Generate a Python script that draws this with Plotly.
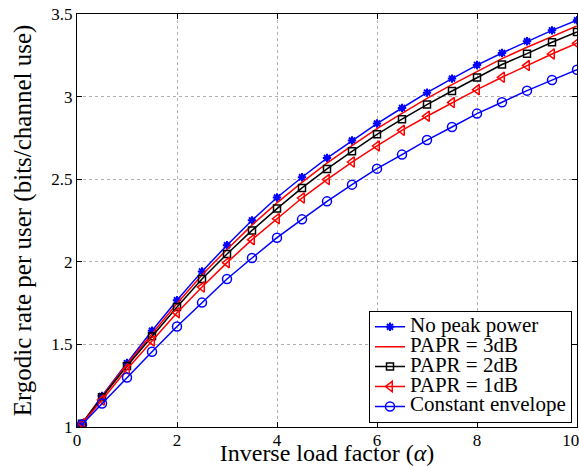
import plotly.graph_objects as go

alpha = [0.1, 0.5, 1, 1.5, 2, 2.5, 3, 3.5, 4, 4.5, 5, 5.5, 6, 6.5, 7, 7.5, 8, 8.5, 9, 9.5, 10]

no_peak = [1.02, 1.188, 1.387, 1.583, 1.767, 1.942, 2.10, 2.251, 2.389, 2.512, 2.628,
           2.734, 2.837, 2.931, 3.024, 3.109, 3.191, 3.264, 3.335, 3.401, 3.462]
papr3 = [1.02, 1.185, 1.38, 1.567, 1.748, 1.92, 2.075, 2.222, 2.357, 2.481, 2.597,
         2.703, 2.806, 2.898, 2.989, 3.073, 3.154, 3.230, 3.299, 3.366, 3.428]
papr2 = [1.02, 1.18, 1.369, 1.549, 1.727, 1.896, 2.047, 2.19, 2.322, 2.447, 2.562,
         2.669, 2.772, 2.863, 2.952, 3.034, 3.115, 3.194, 3.26, 3.329, 3.391]
papr1 = [1.02, 1.163, 1.349, 1.521, 1.692, 1.847, 1.995, 2.134, 2.261, 2.386, 2.498,
         2.604, 2.701, 2.796, 2.881, 2.964, 3.042, 3.117, 3.188, 3.258, 3.323]
const_env = [1.015, 1.142, 1.30, 1.456, 1.608, 1.753, 1.896, 2.023, 2.146, 2.257, 2.366,
             2.467, 2.564, 2.649, 2.737, 2.816, 2.897, 2.966, 3.036, 3.10, 3.163]

series_names = ["No peak power", "PAPR = 3dB", "PAPR = 2dB", "PAPR = 1dB", "Constant envelope"]

x_ticks = [0, 2, 4, 6, 8, 10]
x_tick_text = ["0", "2", "4", "6", "8", "10\u00a0\u00a0\u00a0"]
y_ticks = [1, 1.5, 2, 2.5, 3, 3.5]
y_tick_text = ["1", "1.5", "2", "2.5", "3", "3.5"]

FONT = "Times New Roman, Liberation Serif, DejaVu Serif, serif"
BLUE = "#0000ff"
RED = "#ff0000"
BLACK = "#000000"


def lg(name):
    # larger legend text while keeping compact legend row spacing
    return '<span style="font-size:21px">' + name + "</span>"


fig = go.Figure()
fig.add_trace(go.Scatter(x=alpha, y=no_peak, name=lg(series_names[0]), mode="lines+markers",
                         line=dict(color=BLUE, width=1.5),
                         marker=dict(symbol="asterisk-open", size=7, color=BLUE,
                                     line=dict(color=BLUE, width=2))))
fig.add_trace(go.Scatter(x=alpha, y=papr3, name=lg(series_names[1]), mode="lines",
                         line=dict(color=RED, width=1.5)))
fig.add_trace(go.Scatter(x=alpha, y=papr2, name=lg(series_names[2]), mode="lines+markers",
                         line=dict(color=BLACK, width=1.5),
                         marker=dict(symbol="square-open", size=7, color=BLACK,
                                     line=dict(color=BLACK, width=1.5))))
fig.add_trace(go.Scatter(x=alpha, y=papr1, name=lg(series_names[3]), mode="lines+markers",
                         line=dict(color=RED, width=1.5),
                         marker=dict(symbol="triangle-left-open", size=9, color=RED,
                                     line=dict(color=RED, width=1.5))))
fig.add_trace(go.Scatter(x=alpha, y=const_env, name=lg(series_names[4]), mode="lines+markers",
                         line=dict(color=BLUE, width=1.5),
                         marker=dict(symbol="circle-open", size=9, color=BLUE,
                                     line=dict(color=BLUE, width=1.5))))

axis_common = dict(
    showline=True, linecolor="black", linewidth=1, mirror="ticks",
    ticks="inside", ticklen=5, tickcolor="black",
    showgrid=True, gridcolor="#b0b0b0", griddash="dot", gridwidth=1,
    zeroline=False, automargin=False, ticklabeloverflow="allow",
    tickfont=dict(family=FONT, size=17, color="black"),
)

fig.update_xaxes(range=[0, 10], tickvals=x_ticks, ticktext=x_tick_text,
                 ticklabelstandoff=-2,
                 title=dict(text="Inverse load factor (<i>α</i>)", standoff=3,
                            font=dict(family=FONT, size=24, color="black")),
                 **axis_common)
fig.update_yaxes(range=[1, 3.5], tickvals=y_ticks, ticktext=y_tick_text,
                 title=dict(text="Ergodic rate per user (bits/channel use)", standoff=12,
                            font=dict(family=FONT, size=25, color="black")),
                 **axis_common)

fig.update_layout(
    width=579, height=466,
    margin=dict(l=77, r=2, t=14, b=39),
    paper_bgcolor="white", plot_bgcolor="white",
    font=dict(family=FONT, color="black"),
    legend=dict(x=0.99, y=0.01, xanchor="right", yanchor="bottom",
                bgcolor="white", bordercolor="black", borderwidth=1,
                font=dict(family=FONT, size=13, color="black"),
                tracegroupgap=0, itemwidth=30),
    showlegend=True,
)

fig.write_html("out.html", config={"displayModeBar": False},
               post_script="document.body.style.margin='0px';")
